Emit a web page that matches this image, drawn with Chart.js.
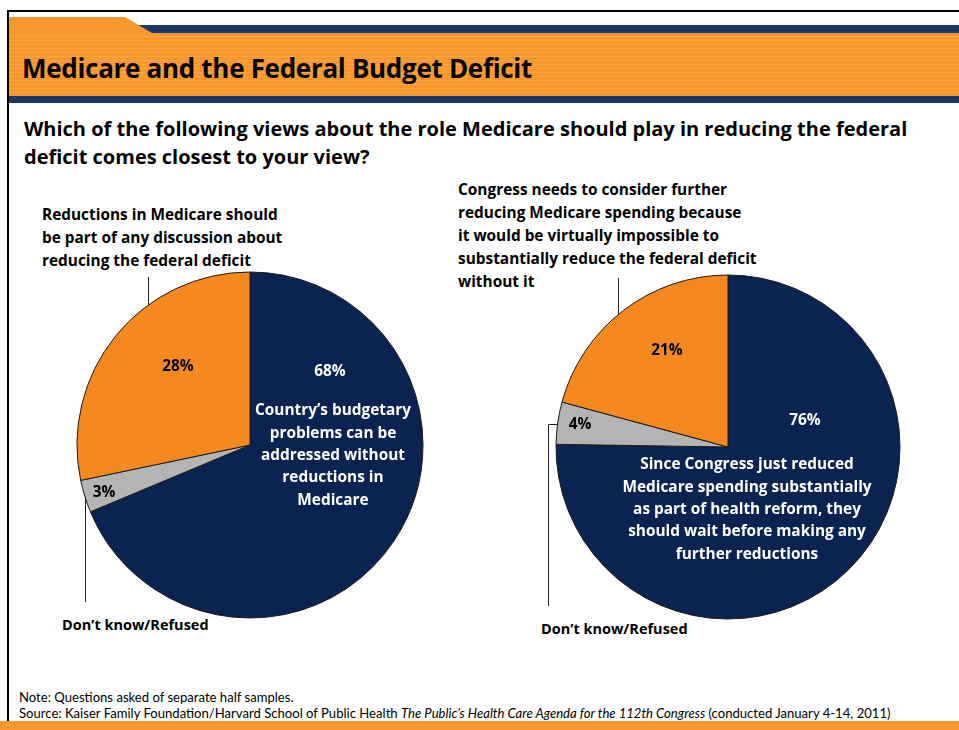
<!DOCTYPE html>
<html>
<head>
<meta charset="utf-8">
<script src="https://cdn.jsdelivr.net/npm/chart.js@4.4.1/dist/chart.umd.min.js"></script>
<style>
  body { margin: 0; width: 959px; height: 730px; position: relative; overflow: hidden; background: #fff; font-family: "Open Sans", Lato, sans-serif; }
  .abs { position: absolute; }
  canvas { position: absolute; left: 0; top: 0; }
  #frameTop { left: 7px; top: 10px; width: 952px; height: 2px; background: #000; }
  #frameLeft { left: 7px; top: 10px; width: 2px; height: 712px; background: #000; }
  #navyStrip { left: 120px; top: 25px; width: 839px; height: 8px; background: #1b3a66; }
  #tab { left: 9px; top: 17px; width: 150px; height: 16px; background: #f7972d; clip-path: polygon(0 0, 116px 0, 143px 100%, 0 100%); }
  #band { left: 9px; top: 33px; width: 950px; height: 63px;
    background: repeating-linear-gradient(#f7972d 0 3px, #f9a545 3px 4px); }
  #navyBar { left: 9px; top: 96px; width: 950px; height: 7px; background: #1b3a66; }
  #bottomBar { left: 0; top: 721px; width: 959px; height: 9px; background: #f7972d; }
  #title { left: 22px; top: 50px; font-size: 26px; font-weight: 700; color: #000; white-space: nowrap; letter-spacing: -0.3px; }
  #question { left: 24px; top: 115px; font-size: 20px; font-weight: 700; line-height: 28px; color: #000; white-space: nowrap; }
  .lab { font-size: 15.4px; font-weight: 700; line-height: 23px; color: #000; white-space: nowrap; }
  .dk { font-size: 14.5px; }
  .note { left: 19px; font-family: Lato, sans-serif; font-size: 13.1px; color: #000; white-space: nowrap; }
</style>
</head>
<body>
<div class="abs" id="frameTop"></div>
<div class="abs" id="frameLeft"></div>
<div class="abs" id="navyStrip"></div>
<div class="abs" id="tab"></div>
<div class="abs" id="band"></div>
<div class="abs" id="navyBar"></div>
<div class="abs" id="bottomBar"></div>
<div class="abs" id="title">Medicare and the Federal Budget Deficit</div>
<div class="abs" id="question">Which of the following views about the role Medicare should play in reducing the federal<br>deficit comes closest to your view?</div>

<div class="abs lab" style="left:42px; top:203px;">Reductions in Medicare should<br>be part of any discussion about<br>reducing the federal deficit</div>
<div class="abs lab" style="left:458px; top:178px;">Congress needs to consider further<br>reducing Medicare spending because<br>it would be virtually impossible to<br>substantially reduce the federal deficit<br>without it</div>
<div class="abs lab dk" style="left:62px; top:613px;">Don’t know/Refused</div>
<div class="abs lab dk" style="left:541px; top:617px;">Don’t know/Refused</div>

<div class="abs note" style="top:689px;">Note: Questions asked of separate half samples.</div>
<div class="abs note" style="top:705px;">Source: Kaiser Family Foundation/Harvard School of Public Health <i>The Public’s Health Care Agenda for the 112th Congress</i> (conducted January 4-14, 2011)</div>

<canvas id="leftPie" width="959" height="730"></canvas>
<canvas id="rightPie" width="959" height="730"></canvas>

<script>
// slice order: can wait / don't know / should cut
const sliceNames = ["No reductions needed", "Don't know/Refused", "Reductions should be discussed"];
const leftValues = [68, 3, 28];
const rightValues = [76, 4, 21];
const sliceColors = ["#0a2350", "#b4b4b4", "#f5891f"];

const leftText = [
    "Country’s budgetary",
    "problems can be",
    "addressed without",
    "reductions in",
    "Medicare"
];
const rightText = [
    "Since Congress just reduced",
    "Medicare spending substantially",
    "as part of health reform, they",
    "should wait before making any",
    "further reductions"
];

const labelFont = "bold 15.4px 'Open Sans', Lato, sans-serif";

// where a vertical leader crosses the pie edge
function edgeY(arc, x, below) {
    const dx = x - arc.x;
    const h = Math.sqrt(Math.max(arc.outerRadius * arc.outerRadius - dx * dx, 0));
    return below ? arc.y + h : arc.y - h;
}

function edgeX(arc, y) {
    const dy = y - arc.y;
    return arc.x - Math.sqrt(Math.max(arc.outerRadius * arc.outerRadius - dy * dy, 0));
}

const pieLabels = {
    id: "pieLabels",
    afterDatasetsDraw(chart, args, opts) {
        const ctx = chart.ctx;
        const arc = chart.getDatasetMeta(0).data[0];
        const values = chart.data.datasets[0].data;
        ctx.save();
        ctx.font = labelFont;
        ctx.textAlign = "center";
        ctx.textBaseline = "middle";
        opts.pct.forEach((p, i) => {
            ctx.fillStyle = p.color;
            ctx.fillText(values[i] + "%", arc.x + p.dx, arc.y + p.dy);
        });
        ctx.fillStyle = "#fff";
        opts.lines.forEach((line, i) => {
            ctx.fillText(line, arc.x + opts.textDx, arc.y + opts.textDy + i * 22.3);
        });

        // leader lines to the outside labels
        ctx.strokeStyle = "#222";
        ctx.lineWidth = 1;
        ctx.beginPath();
        const top = opts.topLeader;
        ctx.moveTo(top.x + 0.5, top.y);
        ctx.lineTo(top.x + 0.5, edgeY(arc, top.x, false));
        const low = opts.lowLeader;
        if (low.elbowY) {
            ctx.moveTo(edgeX(arc, low.elbowY), low.elbowY + 0.5);
            ctx.lineTo(low.x + 0.5, low.elbowY + 0.5);
            ctx.lineTo(low.x + 0.5, low.y);
        } else {
            ctx.moveTo(low.x + 0.5, edgeY(arc, low.x, true));
            ctx.lineTo(low.x + 0.5, low.y);
        }
        ctx.stroke();
        ctx.restore();
    }
};

function makePie(id, values, radius, padding, labelOpts) {
    return new Chart(document.getElementById(id), {
        type: "pie",
        data: {
            labels: sliceNames,
            datasets: [{
                data: values,
                backgroundColor: sliceColors,
                borderColor: "#1a1a1a",
                borderWidth: 1,
                radius: radius
            }]
        },
        options: {
            responsive: false,
            animation: false,
            events: [],
            layout: { padding: padding },
            plugins: {
                legend: { display: false },
                tooltip: { enabled: false },
                pieLabels: labelOpts
            }
        },
        plugins: [pieLabels]
    });
}

makePie("leftPie", leftValues, 173,
    { left: 77, right: 536, top: 272, bottom: 112 },
    {
        pct: [
            { dx: 80, dy: -73, color: "#fff" },
            { dx: -146, dy: 48, color: "#000" },
            { dx: -72, dy: -78, color: "#000" }
        ],
        lines: leftText, textDx: 83, textDy: -34,
        topLeader: { x: 148, y: 277 },
        lowLeader: { x: 85, y: 602 }
    });

makePie("rightPie", rightValues, 172,
    { left: 556, right: 59, top: 275, bottom: 111 },
    {
        pct: [
            { dx: 77, dy: -26, color: "#fff" },
            { dx: -148, dy: -22, color: "#000" },
            { dx: -61, dy: -96, color: "#000" }
        ],
        lines: rightText, textDx: 19, textDy: 18,
        topLeader: { x: 618, y: 278 },
        lowLeader: { x: 548, y: 606, elbowY: 424 }
    });
</script>
</body>
</html>
